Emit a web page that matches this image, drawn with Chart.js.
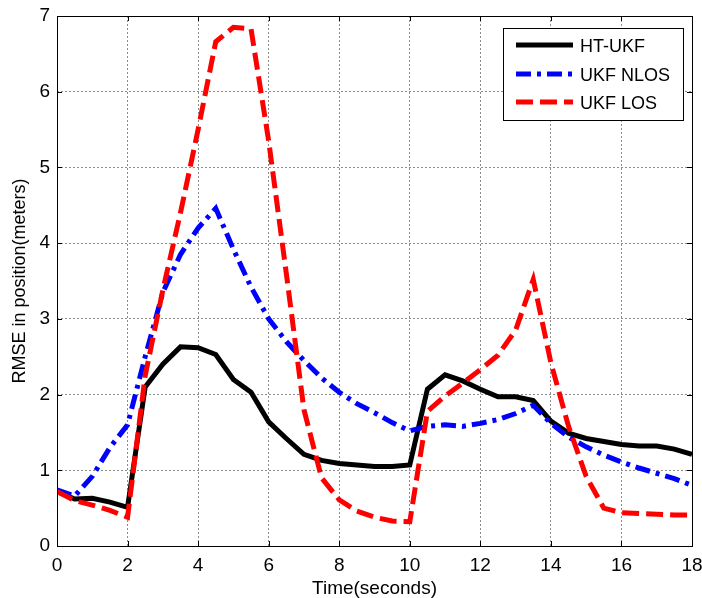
<!DOCTYPE html>
<html>
<head>
<meta charset="utf-8">
<script src="https://cdn.jsdelivr.net/npm/chart.js@4.4.0/dist/chart.umd.min.js"></script>
<style>
    html, body { margin: 0; padding: 0; background: #fff; }
    #wrap { width: 702px; height: 598px; }
</style>
</head>
<body>
<div id="wrap"><canvas id="rmseChart" width="702" height="598"></canvas></div>
<script>
// time axis (seconds), sampled every 0.5 s
const timeSec = [0, 0.5, 1, 1.5, 2, 2.5, 3, 3.5, 4, 4.5, 5, 5.5, 6, 6.5, 7, 7.5, 8, 8.5, 9,
    9.5, 10, 10.5, 11, 11.5, 12, 12.5, 13, 13.5, 14, 14.5, 15, 15.5, 16, 16.5, 17, 17.5, 18];

const htUkf = [0.72, 0.62, 0.63, 0.58, 0.51, 2.1, 2.4, 2.63, 2.62, 2.53, 2.2, 2.03, 1.64, 1.42, 1.21, 1.13, 1.09, 1.07, 1.05,
    1.05, 1.07, 2.07, 2.26, 2.18, 2.07, 1.97, 1.97, 1.92, 1.65, 1.49, 1.42, 1.38, 1.34, 1.32, 1.32, 1.28, 1.21];

const ukfNlos = [0.74, 0.66, 0.92, 1.3, 1.6, 2.5, 3.35, 3.85, 4.2, 4.46, 3.92, 3.42, 3.0, 2.7, 2.45, 2.22, 2.03, 1.88, 1.76,
    1.63, 1.52, 1.58, 1.6, 1.58, 1.62, 1.67, 1.75, 1.86, 1.62, 1.44, 1.31, 1.2, 1.11, 1.03, 0.96, 0.89, 0.8];

const ukfLos = [0.72, 0.6, 0.54, 0.47, 0.38, 2.25, 3.38, 4.4, 5.5, 6.66, 6.85, 6.83, 5.35, 3.6, 1.8, 0.9, 0.61, 0.46, 0.38,
    0.33, 0.32, 1.78, 1.98, 2.15, 2.33, 2.52, 2.85, 3.52, 2.42, 1.58, 0.92, 0.5, 0.44, 0.43, 0.42, 0.41, 0.41];

const seriesNames = ['HT-UKF', 'UKF NLOS', 'UKF LOS'];
const xTicks = [0, 2, 4, 6, 8, 10, 12, 14, 16, 18];
const yTicks = [0, 1, 2, 3, 4, 5, 6, 7];

const FONT = '"Liberation Sans", Arial, sans-serif';
const styles = [
    { color: '#000000', dash: [] },
    { color: '#0000ff', dash: [15, 6, 4, 6] },
    { color: '#ff0000', dash: [17, 7] }
];

function toPoints(values) {
    return timeSec.map((t, i) => ({ x: t, y: values[i] }));
}

// box, inward tick marks and the legend, matlab style
const frame = {
    id: 'frame',
    afterDraw(chart) {
        const ctx = chart.ctx;
        const a = chart.chartArea;
        const xs = chart.scales.x, ys = chart.scales.y;
        ctx.save();
        ctx.strokeStyle = '#000';
        ctx.lineWidth = 1;
        ctx.beginPath();
        xTicks.forEach(v => {
            const px = Math.round(xs.getPixelForValue(v)) + 0.5;
            ctx.moveTo(px, a.bottom); ctx.lineTo(px, a.bottom - 5);
            ctx.moveTo(px, a.top); ctx.lineTo(px, a.top + 5);
        });
        yTicks.forEach(v => {
            const py = Math.round(ys.getPixelForValue(v)) + 0.5;
            ctx.moveTo(a.left, py); ctx.lineTo(a.left + 5, py);
            ctx.moveTo(a.right, py); ctx.lineTo(a.right - 5, py);
        });
        ctx.stroke();
        ctx.strokeRect(Math.round(a.left) + 0.5, Math.round(a.top) + 0.5,
            Math.round(a.right - a.left), Math.round(a.bottom - a.top));

        // legend
        ctx.fillStyle = '#fff';
        ctx.fillRect(503, 28, 180, 93);
        ctx.strokeRect(503.5, 28.5, 180, 92);
        const rows = [45, 74, 102];
        ctx.font = '18px ' + FONT;
        ctx.textBaseline = 'middle';
        seriesNames.forEach((name, i) => {
            ctx.strokeStyle = styles[i].color;
            ctx.lineWidth = 5;
            ctx.setLineDash(styles[i].dash);
            ctx.beginPath();
            ctx.moveTo(516, rows[i]);
            ctx.lineTo(573, rows[i]);
            ctx.stroke();
            ctx.setLineDash([]);
            ctx.fillStyle = '#000';
            ctx.fillText(name, 580, rows[i] + 2);
        });
        ctx.restore();
    }
};

const ctx = document.getElementById('rmseChart').getContext('2d');
const chart = new Chart(ctx, {
    type: 'line',
    data: {
        datasets: [htUkf, ukfNlos, ukfLos].map((vals, i) => ({
            label: seriesNames[i],
            data: toPoints(vals),
            borderColor: styles[i].color,
            borderDash: styles[i].dash,
            borderWidth: 5,
            pointRadius: 0,
            tension: 0,
            fill: false,
            order: 2 - i
        }))
    },
    options: {
        responsive: false,
        animation: false,
        layout: { padding: { top: 16, right: 10, left: 0, bottom: 0 } },
        plugins: { legend: { display: false }, tooltip: { enabled: false } },
        scales: {
            x: {
                type: 'linear',
                min: 0,
                max: 18,
                afterFit: s => { s.height = 52; s.paddingLeft = 0; s.paddingRight = 0; },
                afterBuildTicks: s => { s.ticks = xTicks.map(v => ({ value: v })); },
                ticks: { color: '#000', font: { family: FONT, size: 19 }, padding: 8, maxRotation: 0 },
                grid: { color: '#8c8c8c', lineWidth: 1, drawTicks: false },
                border: { display: false, dash: [2, 2] },
                title: { display: true, text: 'Time(seconds)', color: '#000',
                    font: { family: FONT, size: 19, lineHeight: 1 }, padding: 0 }
            },
            y: {
                min: 0,
                max: 7,
                afterFit: s => { s.width = 57; s.paddingTop = 0; s.paddingBottom = 0; },
                afterBuildTicks: s => { s.ticks = yTicks.map(v => ({ value: v })); },
                ticks: { color: '#000', font: { family: FONT, size: 19 }, padding: 7 },
                grid: { color: '#8c8c8c', lineWidth: 1, drawTicks: false },
                border: { display: false, dash: [2, 2] },
                title: { display: true, text: 'RMSE in position(meters)', color: '#000',
                    font: { family: FONT, size: 18, lineHeight: 1 }, padding: { top: 11, bottom: 0 } }
            }
        }
    },
    plugins: [frame]
});
</script>
</body>
</html>
